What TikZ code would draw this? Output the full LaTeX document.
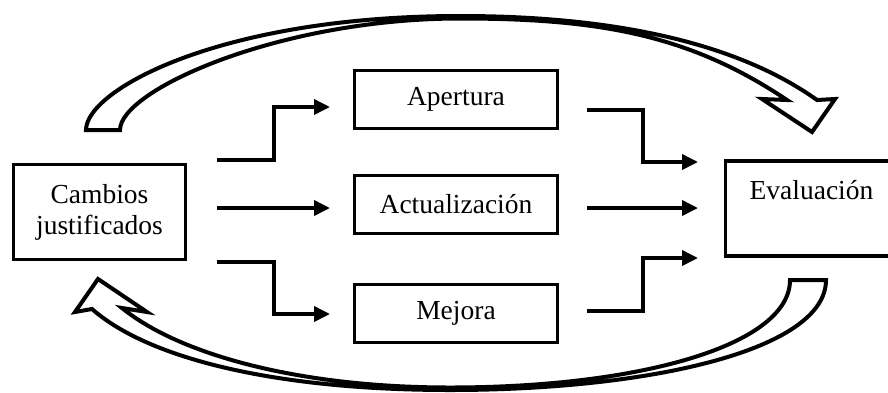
\documentclass[tikz,border=0pt]{standalone}
\usepackage{fontspec}
\setmainfont{Liberation Serif}
\usetikzlibrary{arrows.meta,calc}
\begin{document}
\begin{tikzpicture}[x=0.5pt,y=-0.5pt,
  box/.style={draw,line width=1.8pt,inner sep=0pt,align=center,
    font=\fontsize{13.75}{15.5}\selectfont},
  bigbox/.style={box,minimum width=86pt,minimum height=47.5pt},
  midbox/.style={box,minimum width=101.5pt,minimum height=29pt},
  conn/.style={line width=1.8pt,-{Triangle[length=8pt,width=7.5pt]}},
  blockarrow/.style={draw,line width=2pt,fill=white,line join=miter}]
\useasboundingbox (0,0) rectangle (888,392);
\begin{scope}
\clip (0,0) rectangle (888,392);
% boxes
\node[bigbox] (cj) at (99.5,212) {Cambios\\justificados};
\node[midbox] (ap) at (456,99.5) {Apertura};
\node[midbox] (ac) at (456,204.5) {Actualización};
\node[midbox] (me) at (456,313.5) {Mejora};
\node[bigbox] (ev) at (811.5,208.5) {Evaluación\\\phantom{justificados}};
% free ends of the connectors
\coordinate (kl) at (274,0);
\coordinate (kr) at (643,0);
\coordinate (s1) at (217,160);
\coordinate (s2) at (217,208);
\coordinate (s3) at (217,262);
\coordinate (e1) at (330,107);
\coordinate (e2) at (330,208);
\coordinate (e3) at (330,314);
\coordinate (t1) at (587,110);
\coordinate (t2) at (587,208);
\coordinate (t3) at (587,311);
\coordinate (f1) at (698,162);
\coordinate (f2) at (698,208);
\coordinate (f3) at (698,258);
% connectors left
\draw[conn] (s1) -| (kl |- e1) -- (e1);
\draw[conn] (s2) -- (e2);
\draw[conn] (s3) -| (kl |- e3) -- (e3);
% connectors right
\draw[conn] (t1) -| (kr |- f1) -- (f1);
\draw[conn] (t2) -- (f2);
\draw[conn] (t3) -| (kr |- f3) -- (f3);
% top curved block arrow
\draw[blockarrow] (86,130) .. controls (86,90) and (220,16) .. (460,16)
  .. controls (620,16) and (740,45) .. (817,100)
  -- (835,99) -- (812,132) -- (762,99) -- (787,100)
  .. controls (690,35) and (600,18.5) .. (460,18.5)
  .. controls (280,18.5) and (120,90) .. (120,130) -- cycle;
% bottom curved block arrow
\draw[blockarrow] (826,280) .. controls (826,350) and (650,390) .. (450,390)
  .. controls (280,390) and (150,360) .. (92,309)
  -- (75,312) -- (98,279) -- (147,312) -- (122,308)
  .. controls (180,355) and (300,387.5) .. (450,387.5)
  .. controls (640,387.5) and (790,345) .. (790,280) -- cycle;
\end{scope}
\end{tikzpicture}
\end{document}
